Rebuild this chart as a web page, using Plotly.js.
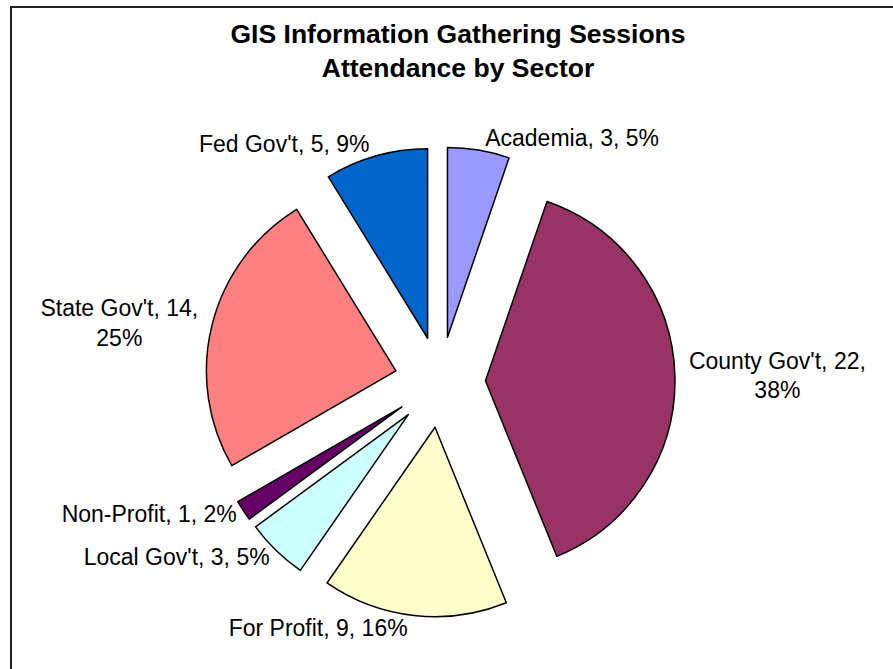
<!DOCTYPE html>
<html>
<head>
<meta charset="utf-8">
<script src="https://cdn.plot.ly/plotly-3.0.1.min.js"></script>
<style>html,body{margin:0;padding:0;background:#fff;}#chart{width:893px;height:669px;}</style>
</head>
<body>
<div id="chart"></div>
<script>
const categories = ["Academia", "County Gov't", "For Profit", "Local Gov't", "Non-Profit", "State Gov't", "Fed Gov't"];
const counts = [3, 22, 9, 3, 1, 14, 5];
const percentLabels = ["5%", "38%", "16%", "5%", "2%", "25%", "9%"];
const lineBreaks = [false, true, false, false, false, true, false];
const colors = ["#9999FF", "#993366", "#FFFFCC", "#CCFFFF", "#660066", "#FF8080", "#0066CC"];

const labelTexts = categories.map((c, i) =>
  c + ", " + counts[i] + "," + (lineBreaks[i] ? "<br>" : " ") + percentLabels[i]);

const W = 893, H = 669;
const trace = {
  type: "pie",
  labels: categories,
  values: counts,
  text: labelTexts,
  textinfo: "text",
  textposition: "outside",
  sort: false,
  direction: "clockwise",
  rotation: 0,
  pull: categories.map(() => 0.24),
  marker: { colors: colors, line: { color: "#000000", width: 1.5 } },
  outsidetextfont: { family: "Arial, 'Liberation Sans', sans-serif", size: 23, color: "#000000" },
  automargin: false,
  hoverinfo: "label+value+percent",
  domain: { x: [205 / W, 675 / W], y: [1 - 617 / H, 1 - 147 / H] }
};

const layout = {
  width: W, height: H,
  margin: { l: 0, r: 0, t: 0, b: 0 },
  paper_bgcolor: "#ffffff",
  showlegend: false,
  title: {
    text: "<b>GIS Information Gathering Sessions<br>Attendance by Sector</b>",
    font: { family: "Arial, 'Liberation Sans', sans-serif", size: 26.5, color: "#000000" },
    x: 458 / W, xanchor: "center",
    y: 1 - 43 / H, yanchor: "top"
  },
  shapes: [{
    type: "rect", xref: "paper", yref: "paper",
    x0: 11 / W, x1: 1.02, y0: -0.02, y1: 1 - 7 / H,
    line: { color: "#222222", width: 2 }
  }]
};

Plotly.newPlot("chart", [trace], layout, { displayModeBar: false, staticPlot: true });
</script>
</body>
</html>
